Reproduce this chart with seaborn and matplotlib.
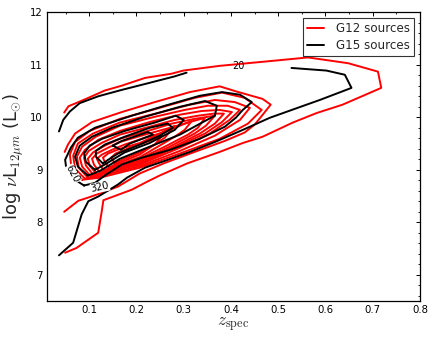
import numpy as np
import pandas as pd
import matplotlib
matplotlib.use("Agg")
import matplotlib.pyplot as plt
from matplotlib.lines import Line2D
import seaborn as sns

# ---------------- data: contour paths (z_spec, log nuL12) ----------------
# G12 sources (red), from outermost to innermost level
g12_c1_z = [0.047,0.056,0.080,0.098,0.133,0.168,0.218,0.274,0.299,0.376,0.482,0.563,0.648,0.711,0.718,0.636,0.581,0.531,0.467,0.425,0.376,0.307,0.249,0.222,0.190,0.130,0.126,0.119,0.073,0.049]
g12_c1_L = [10.09,10.21,10.30,10.37,10.51,10.60,10.75,10.83,10.89,10.98,11.07,11.14,11.03,10.87,10.56,10.24,10.08,9.90,9.63,9.51,9.34,9.12,8.89,8.77,8.62,8.42,8.18,7.80,7.51,7.42]
g12_c2_z = [0.047,0.077,0.101,0.126,0.161,0.207,0.260,0.323,0.387,0.429,0.450,0.461,0.484,0.467,0.412,0.376,0.313,0.239,0.169,0.106,0.070,0.055,0.048]
g12_c2_L = [8.20,8.41,8.48,8.56,8.68,8.93,9.13,9.34,9.55,9.71,9.86,9.98,10.24,10.35,10.49,10.59,10.48,10.29,10.10,9.91,9.69,9.48,9.34]
g12_c3_z = [0.085,0.063,0.059,0.070,0.101,0.165,0.249,0.323,0.381,0.429,0.465,0.436,0.376,0.292,0.207,0.123,0.085]
g12_c3_L = [8.81,9.00,9.29,9.53,9.74,9.97,10.18,10.37,10.47,10.37,10.14,9.88,9.59,9.31,9.04,8.85,8.81]
g12_c4_z = [0.091,0.070,0.066,0.076,0.108,0.165,0.249,0.313,0.366,0.408,0.440,0.419,0.366,0.292,0.207,0.123,0.091]
g12_c4_L = [8.83,9.02,9.27,9.50,9.69,9.90,10.09,10.24,10.33,10.29,10.18,9.95,9.65,9.36,9.07,8.88,8.83]
g12_c5_z = [0.097,0.078,0.074,0.085,0.114,0.165,0.239,0.302,0.351,0.393,0.419,0.397,0.355,0.292,0.207,0.123,0.097]
g12_c5_L = [8.85,9.04,9.25,9.44,9.63,9.84,10.01,10.14,10.22,10.22,10.14,9.95,9.69,9.42,9.10,8.91,8.85]
g12_c6_z = [0.104,0.085,0.080,0.091,0.119,0.165,0.228,0.292,0.338,0.376,0.402,0.381,0.345,0.281,0.207,0.123,0.104]
g12_c6_L = [8.87,9.06,9.23,9.38,9.57,9.74,9.91,10.05,10.12,10.14,10.10,9.91,9.69,9.42,9.12,8.93,8.87]
g12_c7_z = [0.110,0.093,0.089,0.099,0.126,0.165,0.228,0.281,0.330,0.364,0.385,0.366,0.334,0.275,0.207,0.127,0.110]
g12_c7_L = [8.89,9.08,9.23,9.36,9.51,9.67,9.82,9.95,10.03,10.07,10.07,9.88,9.69,9.42,9.15,8.94,8.89]
g12_c8_z = [0.116,0.101,0.097,0.108,0.133,0.165,0.224,0.275,0.323,0.366,0.347,0.323,0.266,0.207,0.131,0.116]
g12_c8_L = [8.91,9.08,9.21,9.33,9.46,9.59,9.74,9.88,9.97,10.03,9.84,9.69,9.42,9.18,8.96,8.91]
g12_c9_z = [0.123,0.110,0.106,0.116,0.140,0.165,0.218,0.271,0.313,0.345,0.330,0.309,0.260,0.207,0.135,0.123]
g12_c9_L = [8.94,9.10,9.21,9.31,9.42,9.53,9.67,9.80,9.91,9.99,9.80,9.67,9.44,9.21,9.00,8.94]
g12_c10_z = [0.131,0.121,0.116,0.127,0.148,0.175,0.218,0.260,0.292,0.317,0.302,0.281,0.249,0.207,0.144,0.131]
g12_c10_L = [8.98,9.12,9.21,9.29,9.38,9.48,9.61,9.72,9.84,9.93,9.76,9.63,9.46,9.24,9.04,8.98]
g12_c11_z = [0.142,0.133,0.129,0.140,0.165,0.207,0.245,0.281,0.260,0.228,0.207,0.154,0.142]
g12_c11_L = [9.04,9.15,9.23,9.31,9.40,9.51,9.67,9.84,9.61,9.42,9.29,9.10,9.04]
g12_c12_z = [0.154,0.146,0.156,0.186,0.228,0.254,0.239,0.207,0.175,0.154]
g12_c12_L = [9.13,9.23,9.31,9.42,9.55,9.65,9.48,9.33,9.21,9.13]

# G15 sources (black)
g15_c1a_z = [0.036,0.045,0.059,0.080,0.119,0.168,0.225,0.281,0.306]
g15_c1a_L = [9.73,9.95,10.11,10.27,10.40,10.52,10.65,10.78,10.85]
g15_c1b_z = [0.528,0.602,0.641,0.655,0.588,0.538,0.482,0.425,0.366,0.313,0.260,0.218,0.180,0.161,0.119,0.098,0.084,0.066,0.036]
g15_c1b_L = [10.94,10.89,10.81,10.56,10.33,10.17,9.99,9.76,9.53,9.34,9.17,9.04,8.85,8.72,8.49,8.40,8.15,7.61,7.37]
g15_c2_z = [0.089,0.063,0.051,0.049,0.061,0.076,0.112,0.190,0.260,0.334,0.381,0.419,0.444,0.425,0.410,0.387,0.334,0.271,0.211,0.169,0.133,0.112,0.089]
g15_c2_L = [8.70,8.85,9.06,9.19,9.42,9.61,9.80,10.03,10.22,10.41,10.48,10.43,10.29,10.14,9.99,9.82,9.59,9.38,9.23,9.10,8.89,8.75,8.70]
g15_c3_z = [0.097,0.076,0.070,0.080,0.106,0.148,0.218,0.292,0.345,0.370,0.366,0.345,0.292,0.228,0.165,0.123,0.097]
g15_c3_L = [8.89,9.06,9.25,9.46,9.63,9.80,10.01,10.20,10.31,10.22,10.03,9.93,9.67,9.44,9.21,8.98,8.89]
g15_c4_z = [0.112,0.093,0.089,0.101,0.127,0.175,0.239,0.283,0.300,0.281,0.228,0.175,0.133,0.112]
g15_c4_L = [9.00,9.15,9.31,9.46,9.59,9.74,9.90,10.03,9.95,9.76,9.51,9.33,9.10,9.00]
g15_c5_z = [0.129,0.114,0.114,0.133,0.175,0.228,0.266,0.277,0.249,0.207,0.161,0.140,0.129]
g15_c5_L = [9.12,9.25,9.36,9.48,9.63,9.80,9.88,9.80,9.65,9.48,9.31,9.19,9.12]
g15_c6_z = [0.150,0.169,0.224,0.235,0.186,0.167,0.150]
g15_c6_L = [9.46,9.55,9.72,9.67,9.50,9.38,9.46]

# contour labels (text, z, logL)
label_texts = ["20", "320", "620"]
label_z = [0.415, 0.123, 0.065]
label_L = [10.97, 8.67, 8.92]

series_names = ["G12 sources", "G15 sources"]
series_colors = ["#ff0000", "#000000"]

g12_paths = [(g12_c1_z, g12_c1_L), (g12_c2_z, g12_c2_L), (g12_c3_z, g12_c3_L),
             (g12_c4_z, g12_c4_L), (g12_c5_z, g12_c5_L), (g12_c6_z, g12_c6_L),
             (g12_c7_z, g12_c7_L), (g12_c8_z, g12_c8_L), (g12_c9_z, g12_c9_L),
             (g12_c10_z, g12_c10_L), (g12_c11_z, g12_c11_L), (g12_c12_z, g12_c12_L)]
g15_paths = [(g15_c1a_z, g15_c1a_L), (g15_c1b_z, g15_c1b_L), (g15_c2_z, g15_c2_L),
             (g15_c3_z, g15_c3_L), (g15_c4_z, g15_c4_L), (g15_c5_z, g15_c5_L),
             (g15_c6_z, g15_c6_L)]

rows = []
for name, paths in zip(series_names, [g12_paths, g15_paths]):
    for k, (zz, LL) in enumerate(paths):
        for i, (a, b) in enumerate(zip(zz, LL)):
            rows.append({"field": name, "contour": f"{name}-{k}", "order": i, "z": a, "L": b})
df = pd.DataFrame(rows)

# ---------------- plotting ----------------
sns.set_style("white")
plt.rcParams["mathtext.fontset"] = "cm"
plt.rcParams["font.family"] = ["DejaVu Sans"]

fig = plt.figure(figsize=(4.36, 3.39), dpi=100)
ax = fig.add_axes([0.1071, 0.1121, 0.8562, 0.8516])

sns.lineplot(data=df, x="z", y="L", hue="field", units="contour", estimator=None,
             sort=False, palette=dict(zip(series_names, series_colors)),
             hue_order=series_names, linewidth=1.4, legend=False, ax=ax)

for t, a, b, rot, box in zip(label_texts, label_z, label_L, [0, 12, -62], [False, True, True]):
    kw = dict(bbox=dict(facecolor="white", edgecolor="none", pad=0.3)) if box else {}
    ax.text(a, b, t, fontsize=7, color="black", ha="center", va="center",
            rotation=rot, zorder=5, **kw)

ax.set_xlim(0.01, 0.8)
ax.set_ylim(6.5, 12)
ax.set_xticks([0.1, 0.2, 0.3, 0.4, 0.5, 0.6, 0.7, 0.8])
ax.set_xticklabels(["0.1", "0.2", "0.3", "0.4", "0.5", "0.6", "0.7", "0.8"])
ax.set_yticks([7, 8, 9, 10, 11, 12])
ax.set_xticks(np.arange(0.05, 0.8, 0.05), minor=True)
ax.set_yticks(np.arange(6.6, 12.0, 0.2), minor=True)
ax.tick_params(which="both", direction="in", top=True, right=True, labelsize=7.3,
               color="black", labelcolor="black")
ax.tick_params(which="major", length=3.2, width=0.7, pad=3)
ax.tick_params(which="minor", length=1.6, width=0.6)
for s in ax.spines.values():
    s.set_color("black")
    s.set_linewidth(0.9)

ax.set_xlabel(r"$z_{\rm spec}$", fontsize=12.5, labelpad=0)
ax.set_ylabel(r"log $\nu$L$_{12\mu m}$ (L$_{\odot}$)", fontsize=13, labelpad=3)

handles = [Line2D([0], [0], color=c, lw=1.4) for c in series_colors]
leg = ax.legend(handles, series_names, loc="upper right", fontsize=8.6,
                frameon=True, fancybox=False, handlelength=1.4, handletextpad=1.0,
                borderaxespad=0.5, borderpad=0.35, labelspacing=0.3)
leg.get_frame().set_edgecolor("black")
leg.get_frame().set_linewidth(0.8)

fig.savefig("out.png", dpi=100)
